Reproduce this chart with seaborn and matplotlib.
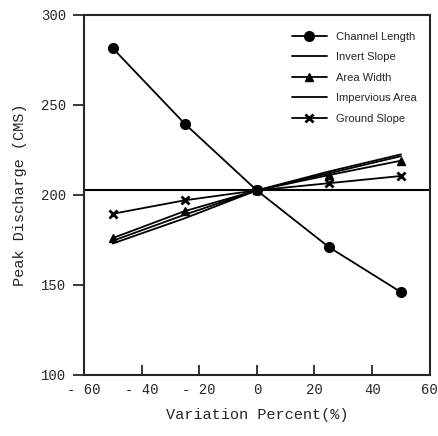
import matplotlib
matplotlib.use('Agg')
import matplotlib.pyplot as plt
import seaborn as sns
import pandas as pd

# values
variation = [-50, -25, 0, 25, 50]
channel_length = [281.5, 239.5, 202.5, 171.0, 146.0]
invert_slope = [173.0, 187.0, 202.5, 212.0, 221.5]
area_width = [176.0, 191.0, 202.5, 211.0, 219.0]
impervious_area = [174.5, 189.0, 202.5, 213.0, 222.5]
ground_slope = [189.5, 197.0, 202.5, 206.5, 210.5]
baseline = 202.5

x_ticks = [-60, -40, -20, 0, 20, 40, 60]
x_tick_labels = ['- 60', '- 40', '- 20', '0', '20', '40', '60']
y_ticks = [100, 150, 200, 250, 300]

series = [
    ('Channel Length', channel_length, 'o', 7),
    ('Invert Slope', invert_slope, None, 0),
    ('Area Width', area_width, '^', 6),
    ('Impervious Area', impervious_area, None, 0),
    ('Ground Slope', ground_slope, 'x', 6),
]

sns.set_style('ticks')
plt.rcParams['font.family'] = ['Liberation Mono', 'DejaVu Sans']

fig = plt.figure(figsize=(4.39, 4.36), dpi=100)
ax = fig.add_axes([0.191, 0.140, 0.788, 0.826])

for name, vals, mk, ms in series:
    df = pd.DataFrame({'Variation': variation, 'Discharge': vals})
    sns.lineplot(data=df, x='Variation', y='Discharge', ax=ax, color='black',
                 linewidth=1.3, marker=mk if mk else '', markersize=ms,
                 markeredgecolor='black', markerfacecolor='black',
                 markeredgewidth=2 if mk == 'x' else 1, label=name)

ax.axhline(baseline, color='black', linewidth=1.5, zorder=0)

ax.set_xlim(-60, 60)
ax.set_ylim(100, 300)
ax.set_xticks(x_ticks)
ax.set_xticklabels(x_tick_labels)
ax.set_yticks(y_ticks)
ax.tick_params(axis='x', direction='in', length=7, width=1.3, labelsize=10, pad=6)
ax.tick_params(axis='y', direction='out', length=8, width=1.3, labelsize=10, pad=5)
for s in ax.spines.values():
    s.set_visible(True)
    s.set_linewidth(1.5)

ax.set_xlabel('Variation Percent(%)', fontsize=11, labelpad=8)
ax.set_ylabel('Peak Discharge (CMS)', fontsize=11, labelpad=10)

leg = ax.legend(loc='upper right', bbox_to_anchor=(0.985, 0.975), frameon=False,
                prop={'family': ['Liberation Sans Narrow', 'Liberation Sans'], 'size': 8},
                handlelength=3.2, labelspacing=0.95, borderaxespad=0.3)

fig.savefig('out.png', dpi=100)
